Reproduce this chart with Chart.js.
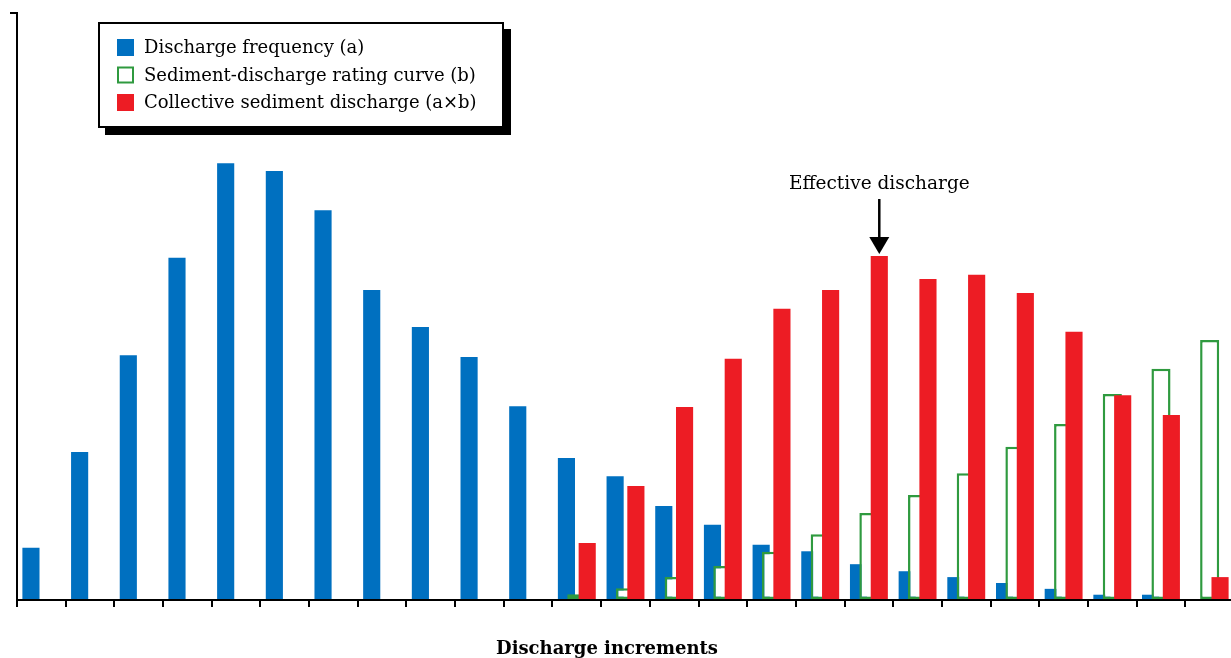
<!DOCTYPE html>
<html><head><meta charset="utf-8">
<script src="https://cdn.jsdelivr.net/npm/chart.js@4.4.0/dist/chart.umd.min.js"></script>
<style>html,body{margin:0;padding:0;background:#fff;overflow:hidden;width:1231px;height:658px}canvas{display:block}</style>
</head><body>
<canvas id="c" width="1234" height="658"></canvas>
<script>
// ---- data (relative units) ----
const categories = ['1','2','3','4','5','6','7','8','9','10','11','12','13','14','15','16','17','18','19','20','21','22','23','24','25'];
const dischargeFrequency = [8.9, 25.2, 41.7, 58.3, 74.4, 73.1, 66.4, 52.8, 46.5, 41.4, 33.0, 24.2, 21.1, 16.0, 12.8, 9.4, 8.3, 6.1, 4.9, 3.9, 2.9, 1.9, 0.9, 0.9, 0];
const ratingCurve = [null, null, null, null, null, null, null, null, null, null, null, 1.0, 2.0, 3.9, 5.8, 8.2, 11.2, 14.8, 17.9, 21.6, 26.1, 30.0, 35.1, 39.4, 44.3];
const collectiveDischarge = [null, null, null, null, null, null, null, null, null, null, null, 9.7, 19.4, 32.9, 41.1, 49.6, 52.8, 58.6, 54.7, 55.4, 52.3, 45.7, 34.9, 31.5, 3.9];
const seriesLabels = ['Discharge frequency (a)', 'Sediment-discharge rating curve (b)', 'Collective sediment discharge (a\u00d7b)'];
const axisTitle = 'Discharge increments';
const annotationText = 'Effective discharge';

const SERIF = '"DejaVu Serif", "Liberation Serif", serif';

// draw datasets in index order (blue below, green over it, red on top)
const drawOrder = {
  id: 'drawOrder',
  beforeDatasetsDraw(chart) {
    chart.data.datasets.forEach((d, i) => {
      const m = chart.getDatasetMeta(i);
      if (!m.hidden) m.controller.draw();
    });
    return false;
  }
};

const boxedLegend = {
  id: 'boxedLegend',
  afterDraw(chart, args, o) {
    const ctx = chart.ctx;
    ctx.save();
    ctx.fillStyle = '#000';
    ctx.fillRect(o.x + o.shadow, o.y + o.shadow, o.w, o.h);
    ctx.fillStyle = '#fff';
    ctx.fillRect(o.x, o.y, o.w, o.h);
    ctx.lineWidth = 2;
    ctx.strokeStyle = '#000';
    ctx.strokeRect(o.x + 1, o.y + 1, o.w - 2, o.h - 2);
    ctx.font = o.fontSize + 'px ' + SERIF;
    ctx.textBaseline = 'middle';
    ctx.textAlign = 'left';
    chart.data.datasets.forEach((ds, i) => {
      const cy = o.y + o.firstRow + i * o.rowGap;
      const bx = o.x + o.boxLeft, s = o.box;
      if (ds.borderWidth) {
        ctx.fillStyle = '#fff';
        ctx.fillRect(bx, cy - s / 2, s, s);
        ctx.lineWidth = 2;
        ctx.strokeStyle = ds.borderColor;
        ctx.strokeRect(bx + 1, cy - s / 2 + 1, s - 2, s - 2);
      } else {
        ctx.fillStyle = ds.backgroundColor;
        ctx.fillRect(bx, cy - s / 2, s, s);
      }
      ctx.fillStyle = '#000';
      ctx.fillText(ds.label, o.x + o.textLeft, cy + 1);
    });
    ctx.restore();
  }
};

const effectiveArrow = {
  id: 'effectiveArrow',
  afterDraw(chart, args, o) {
    const di = 2;
    const vals = chart.data.datasets[di].data;
    let idx = 0;
    vals.forEach((v, i) => { if (v != null && (vals[idx] == null || v > vals[idx])) idx = i; });
    const el = chart.getDatasetMeta(di).data[idx];
    if (!el) return;
    const ctx = chart.ctx;
    const x = el.x, tip = el.y - 2;
    ctx.save();
    ctx.strokeStyle = '#000';
    ctx.fillStyle = '#000';
    ctx.lineWidth = 2.5;
    ctx.beginPath();
    ctx.moveTo(x, tip - 55);
    ctx.lineTo(x, tip - 14);
    ctx.stroke();
    ctx.beginPath();
    ctx.moveTo(x - 10, tip - 17);
    ctx.lineTo(x + 10, tip - 17);
    ctx.lineTo(x, tip);
    ctx.closePath();
    ctx.fill();
    ctx.font = o.fontSize + 'px ' + SERIF;
    ctx.textAlign = 'center';
    ctx.textBaseline = 'alphabetic';
    ctx.fillStyle = '#000';
    ctx.fillText(annotationText, x, tip - 65);
    ctx.restore();
  }
};

const axisTitlePlugin = {
  id: 'axisTitle',
  afterDraw(chart, args, o) {
    const ctx = chart.ctx, a = chart.chartArea;
    ctx.save();
    ctx.font = 'bold ' + o.fontSize + 'px ' + SERIF;
    ctx.textAlign = 'center';
    ctx.textBaseline = 'alphabetic';
    ctx.fillStyle = '#000';
    ctx.fillText(axisTitle, o.x, a.bottom + o.dy);
    ctx.restore();
  }
};

new Chart(document.getElementById('c'), {
  type: 'bar',
  data: {
    labels: categories,
    datasets: [
      { label: seriesLabels[0], data: dischargeFrequency, backgroundColor: '#0070c0', barPercentage: 1.65 },
      { label: seriesLabels[1], data: ratingCurve, backgroundColor: '#ffffff', borderColor: '#2f9a3f', borderWidth: 2.5, borderSkipped: false, barPercentage: 1.84 },
      { label: seriesLabels[2], data: collectiveDischarge, backgroundColor: '#ed1c24', barPercentage: 1.65 }
    ]
  },
  options: {
    responsive: false,
    animation: false,
    datasets: { bar: { categoryPercentage: 0.64 } },
    layout: { padding: { top: 13, right: 0, left: 0, bottom: 0 } },
    plugins: {
      legend: { display: false },
      tooltip: { enabled: false },
      boxedLegend: { x: 98, y: 22, w: 406, h: 106, shadow: 7, boxLeft: 19, box: 17, textLeft: 46, firstRow: 25.5, rowGap: 27.5, fontSize: 18 },
      effectiveArrow: { fontSize: 18.5 },
      axisTitle: { fontSize: 18, x: 607, dy: 54 }
    },
    scales: {
      x: {
        z: 1,
        grid: { offset: true, drawOnChartArea: false, color: '#000', lineWidth: 2, tickLength: 7 },
        border: { color: '#000', width: 2 },
        ticks: { display: false },
        title: { display: false, text: axisTitle },
        afterFit(s) { s.height = 58; }
      },
      y: {
        z: 1,
        min: 0, max: 100,
        ticks: { display: false, stepSize: 100 },
        grid: { drawOnChartArea: false, tickLength: 7, lineWidth: 2, color: c => (c.tick && c.tick.value === 100) ? '#000' : 'rgba(0,0,0,0)' },
        border: { color: '#000', width: 2 },
        afterFit(s) { s.width = 17; }
      }
    }
  },
  plugins: [drawOrder, boxedLegend, effectiveArrow, axisTitlePlugin]
});
</script>
</body></html>
